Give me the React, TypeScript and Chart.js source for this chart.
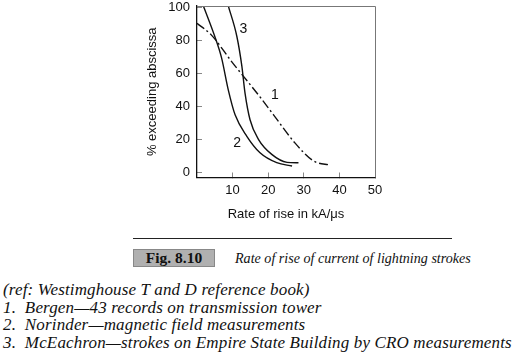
import React, { useEffect, useRef } from "react";
import { Chart, registerables } from "chart.js";

Chart.register(...registerables);

// ---- data ----
const xTickValues = [10, 20, 30, 40, 50];
const yTickValues = [0, 20, 40, 60, 80, 100];

// Curve 1: Bergen (dash-dot)
const bergenX = [0, 4, 10, 13, 18, 21.5, 27.5, 32.8, 37.5];
const bergenY = [90.5, 83.5, 66.5, 58.5, 45, 35, 18, 7, 4.5];

// Curve 2: Norinder
const norinderX = [1.8, 5, 6.9, 8.8, 10.7, 14, 17.7, 22.4, 26.7];
const norinderY = [101, 82.5, 69.5, 50, 35, 22, 12, 6, 4];

// Curve 3: McEachron
const mceachronX = [8.8, 11.2, 12.6, 13.5, 14.9, 17.3, 21, 25.3, 28.5];
const mceachronY = [101, 82.5, 64.5, 48, 32, 20, 11, 6.2, 5.9];

// Curve number labels (data coordinates)
const curveLabelText = ["1", "2", "3"];
const curveLabelX = [21.9, 11.3, 13.0];
const curveLabelY = [47, 18, 87];

const xTitle = "Rate of rise in kA/\u03bcs";
const yTitle = "% exceeding abscissa";

const figNumber = "Fig. 8.10";
const figCaption = "Rate of rise of current of lightning strokes";
const notes = [
  "(ref: Westimghouse T and D reference book)",
  "1.  Bergen\u201443 records on transmission tower",
  "2.  Norinder\u2014magnetic field measurements",
  "3.  McEachron\u2014strokes on Empire State Building by CRO measurements",
];

const sans = "'Liberation Sans', Arial, Helvetica, sans-serif";
const serif = "'Liberation Serif', 'Times New Roman', serif";

const overlayPlugin = {
  id: "overlay",
  afterDatasetsDraw(chart: any) {
    const { ctx, chartArea, scales } = chart;
    const { left, right, top, bottom } = chartArea;
    ctx.save();
    ctx.strokeStyle = "#777";
    ctx.lineWidth = 1;
    ctx.beginPath();
    ctx.moveTo(left, Math.round(top) + 0.5);
    ctx.lineTo(Math.round(right) + 0.5, Math.round(top) + 0.5);
    ctx.lineTo(Math.round(right) + 0.5, bottom);
    ctx.stroke();

    ctx.fillStyle = "#111";
    ctx.font = `14px ${sans}`;
    ctx.textAlign = "center";
    ctx.textBaseline = "middle";
    curveLabelText.forEach((t, i) => {
      ctx.fillText(
        t,
        scales.x.getPixelForValue(curveLabelX[i]),
        scales.y.getPixelForValue(curveLabelY[i])
      );
    });
    ctx.restore();
  },
};

function toPoints(xs: number[], ys: number[]) {
  return xs.map((x, i) => ({ x, y: ys[i] }));
}

export default function App() {
  const canvasRef = useRef<HTMLCanvasElement | null>(null);

  useEffect(() => {
    document.body.style.margin = "0";
    const canvas = canvasRef.current;
    if (!canvas) return;
    const lineCommon = {
      borderColor: "#111",
      borderWidth: 1.4,
      pointRadius: 0,
      fill: false,
      cubicInterpolationMode: "monotone" as const,
    };
    const chart = new Chart(canvas, {
      type: "line",
      data: {
        datasets: [
          { ...lineCommon, data: toPoints(bergenX, bergenY), borderDash: [9, 3, 2, 3] },
          { ...lineCommon, data: toPoints(norinderX, norinderY) },
          { ...lineCommon, data: toPoints(mceachronX, mceachronY) },
        ],
      },
      options: {
        animation: false,
        responsive: false,
        maintainAspectRatio: false,
        layout: { padding: { left: 140, right: 142, top: 20, bottom: 0 } },
        plugins: { legend: { display: false }, tooltip: { enabled: false } },
        scales: {
          x: {
            type: "linear",
            min: 0,
            max: 50,
            afterBuildTicks: (s: any) => {
              s.ticks = xTickValues.map((v) => ({ value: v }));
            },
            afterFit: (s: any) => {
              s.height = 48.5;
            },
            grid: { drawOnChartArea: false, drawTicks: true, tickLength: -5, color: "#888", lineWidth: 1 },
            border: { color: "#111", width: 1.3 },
            ticks: { padding: 10, color: "#111", font: { family: sans, size: 13 }, maxRotation: 0 },
            title: {
              display: true,
              text: xTitle,
              color: "#111",
              font: { family: sans, size: 13 },
              padding: { top: 4, bottom: 4 },
            },
          },
          y: {
            type: "linear",
            min: -3,
            max: 101,
            afterBuildTicks: (s: any) => {
              s.ticks = yTickValues.map((v) => ({ value: v }));
            },
            afterFit: (s: any) => {
              s.width = 57;
            },
            grid: { drawOnChartArea: false, drawTicks: true, tickLength: -5, color: "#888", lineWidth: 1 },
            border: { color: "#111", width: 1.3 },
            ticks: { padding: 12, color: "#111", font: { family: sans, size: 13 } },
            title: {
              display: true,
              text: yTitle,
              color: "#111",
              font: { family: sans, size: 13 },
              padding: { top: 5, bottom: 0 },
            },
          },
        },
      },
      plugins: [overlayPlugin],
    });
    return () => chart.destroy();
  }, []);

  return (
    <div
      style={{
        position: "fixed",
        left: 0,
        top: 0,
        width: 517,
        height: 361,
        background: "#fff",
        overflow: "hidden",
      }}
    >
      <canvas
        ref={canvasRef}
        width={517}
        height={240}
        style={{ position: "absolute", left: 0, top: -14, width: 517, height: 240 }}
      />
      <div
        style={{
          position: "absolute",
          left: 133,
          top: 238,
          width: 319,
          height: 0,
          borderTop: "1.5px solid #222",
        }}
      />
      <div
        style={{
          position: "absolute",
          left: 133,
          top: 249,
          width: 82,
          height: 18,
          background: "#c4c4c4",
          backgroundImage: "radial-gradient(#999 0.6px, transparent 0.8px)",
          backgroundSize: "2px 2px",
          border: "1px solid #888",
          boxSizing: "border-box",
          fontFamily: serif,
          fontWeight: "bold",
          fontSize: 15.5,
          lineHeight: "16px",
          textAlign: "center",
          color: "#111",
        }}
      >
        {figNumber}
      </div>
      <div
        style={{
          position: "absolute",
          left: 235,
          top: 250,
          fontFamily: serif,
          fontStyle: "italic",
          fontSize: 14.1,
          lineHeight: "17px",
          color: "#111",
          whiteSpace: "pre",
        }}
      >
        {figCaption}
      </div>
      {notes.map((n, i) => (
        <div
          key={i}
          style={{
            position: "absolute",
            left: 3,
            top: 280 + i * 17.7,
            fontFamily: serif,
            fontStyle: "italic",
            fontSize: 17,
            lineHeight: "20px",
            letterSpacing: "0.15px",
            color: "#111",
            whiteSpace: "pre",
          }}
        >
          {n}
        </div>
      ))}
    </div>
  );
}
